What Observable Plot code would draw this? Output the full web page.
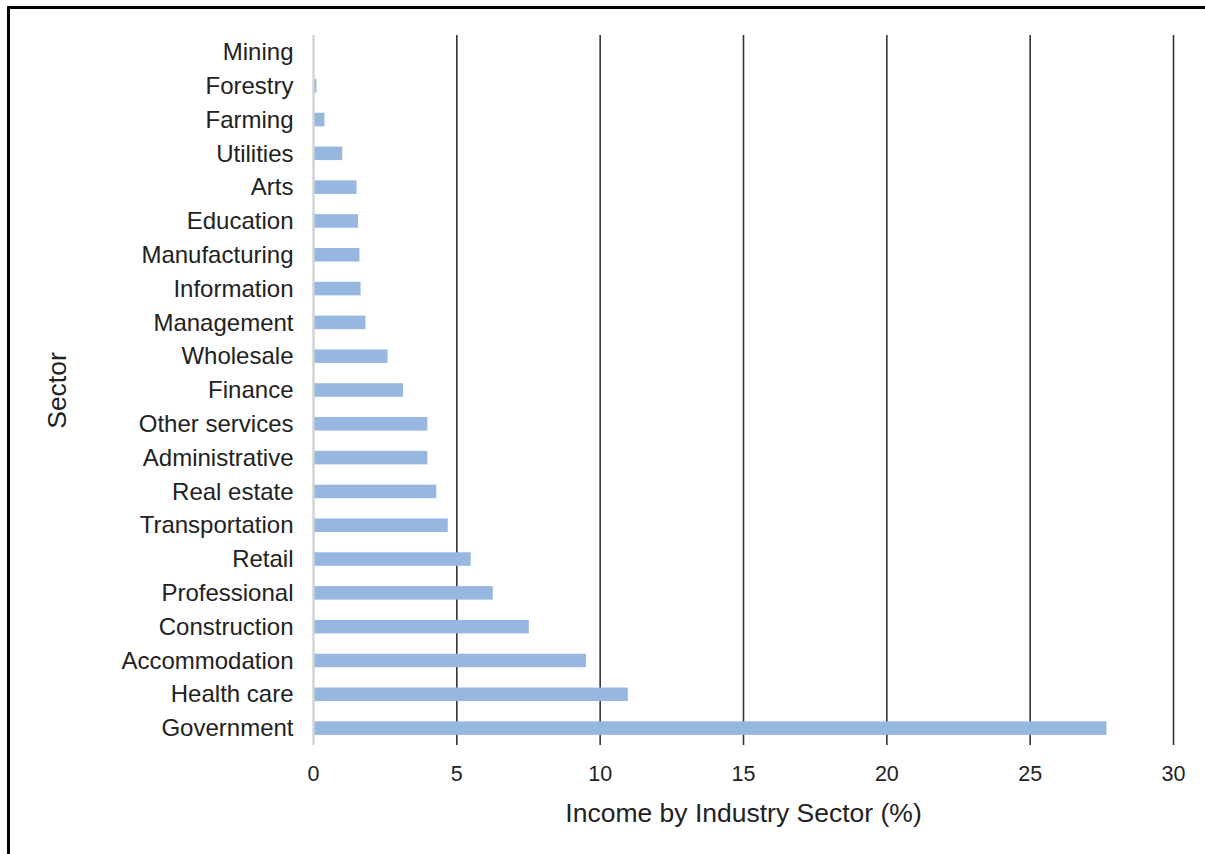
<!DOCTYPE html>
<html>
<head>
<meta charset="utf-8">
<script src="https://cdn.jsdelivr.net/npm/d3@7"></script>
<script src="https://cdn.jsdelivr.net/npm/@observablehq/plot@0.6"></script>
<style>
  html, body { margin: 0; padding: 0; background: #fff; overflow: hidden; }
  #wrap { position: relative; width: 1205px; height: 854px; }
  #frame { position: absolute; left: 7px; top: 6px; width: 1400px; height: 1000px;
           border-left: 3px solid #000; border-top: 3px solid #000; pointer-events: none; }
  #chart { position: absolute; left: 0; top: 0; }
</style>
</head>
<body>
<div id="wrap">
  <div id="chart"></div>
  <div id="frame"></div>
</div>
<script>
const sectors = ["Mining", "Forestry", "Farming", "Utilities", "Arts", "Education",
  "Manufacturing", "Information", "Management", "Wholesale", "Finance",
  "Other services", "Administrative", "Real estate", "Transportation", "Retail",
  "Professional", "Construction", "Accommodation", "Health care", "Government"];
const shares = [0.0, 0.12, 0.4, 1.02, 1.52, 1.57, 1.62, 1.66, 1.83, 2.6, 3.14,
  3.99, 3.99, 4.3, 4.7, 5.5, 6.27, 7.53, 9.52, 10.98, 27.68];
const xTicks = [0, 5, 10, 15, 20, 25, 30];
const gridTicks = [5, 10, 15, 20, 25, 30];

const data = sectors.map((s, i) => ({sector: s, value: shares[i]}));

const chart = Plot.plot({
  width: 1205,
  height: 854,
  marginLeft: 313,
  marginRight: 32,
  marginTop: 35,
  marginBottom: 109,
  style: {fontFamily: "'Liberation Sans', Arial, sans-serif", color: "#222", background: "#fff"},
  x: {domain: [0, 30]},
  y: {domain: sectors, paddingInner: 0.6, paddingOuter: 0.3, round: false},
  marks: [
    Plot.ruleX(gridTicks, {stroke: "#333", strokeWidth: 1.6}),
    Plot.ruleX([0], {stroke: "#d4d4d4", strokeWidth: 2.5}),
    Plot.barX(data, {x: "value", y: "sector", fill: "#96b7e0", insetLeft: 1.5}),
    Plot.axisX(xTicks, {tickSize: 0, tickPadding: 20, fontSize: 21.5,
      label: "Income by Industry Sector (%)", labelAnchor: "center", labelArrow: "none",
      labelOffset: 76}),
    Plot.axisY({tickSize: 0, tickPadding: 20, fontSize: 24,
      label: "Sector", labelAnchor: "center", labelArrow: "none", labelOffset: 266})
  ]
});

// Label font sizes
chart.querySelectorAll("g[aria-label='x-axis label'] text").forEach(t => t.setAttribute("font-size", "26.5"));
chart.querySelectorAll("g[aria-label='y-axis label'] text").forEach(t => t.setAttribute("font-size", "26.5"));
document.getElementById("chart").appendChild(chart);
</script>
</body>
</html>
